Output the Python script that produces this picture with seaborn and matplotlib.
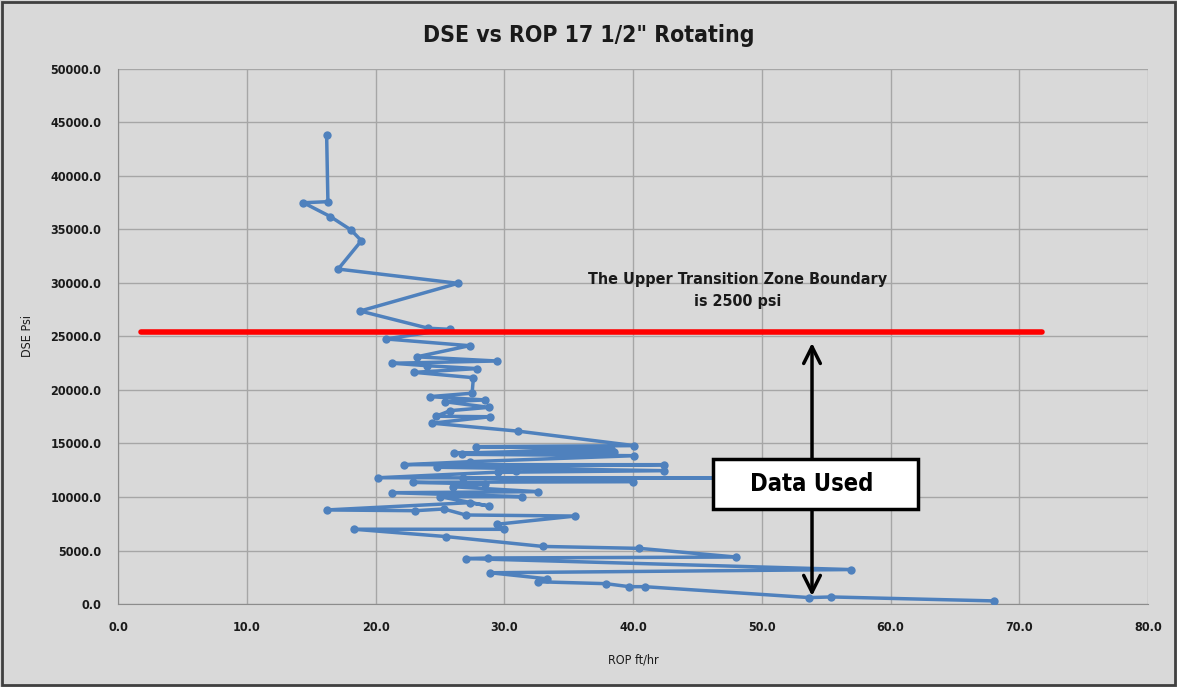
import matplotlib
matplotlib.use("Agg")
import matplotlib.pyplot as plt
import matplotlib.ticker as mticker
from matplotlib.patches import Rectangle
import pandas as pd
import seaborn as sns

# ROP (ft/hr) and DSE (psi), in drilling order (top to bottom)
rop = [16.2, 16.3, 14.4, 16.5, 18.1, 18.9, 17.1, 26.4, 18.8, 24.1, 25.8, 20.8, 27.3,
       23.2, 29.4, 21.3, 24.0, 27.9, 23.0, 27.6, 27.5, 24.2, 28.5, 25.4, 28.8, 25.8,
       24.7, 28.9, 24.4, 31.1, 40.1, 27.8, 38.3, 26.1, 38.5, 26.7, 40.1, 27.3, 22.2,
       42.4, 24.8, 42.4, 29.5, 30.9, 20.2, 48.1, 26.8, 40.0, 22.9, 28.5, 26.0, 32.6,
       21.3, 31.4, 25.0, 28.8, 27.3, 16.2, 23.1, 25.3, 27.0, 35.5, 29.4, 30.0, 18.3,
       25.5, 33.0, 40.5, 48.0, 28.7, 27.0, 56.9, 28.9, 33.3, 32.6, 37.9, 39.7, 40.9,
       53.7, 55.4, 68.0]
dse = [43860, 37600, 37500, 36200, 34950, 33950, 31300, 29970, 27380, 25770, 25670, 24770, 24140,
       23100, 22710, 22500, 22270, 22000, 21650, 21150, 19700, 19380, 19070, 18900, 18380, 18070,
       17550, 17500, 16900, 16150, 14800, 14700, 14490, 14080, 14230, 13990, 13860, 13300, 13020,
       13020, 12780, 12460, 12310, 12400, 11800, 11750, 11800, 11430, 11370, 11210, 10960, 10500,
       10400, 10030, 10030, 9160, 9470, 8790, 8720, 8880, 8320, 8220, 7450, 6980, 6990,
       6300, 5380, 5200, 4390, 4300, 4250, 3220, 2920, 2360, 2080, 1900, 1620, 1620,
       600, 660, 290]

boundary_dse = 25400
boundary_x = [1.8, 71.8]
arrow_x = 53.9
arrow_y = [24400, 750]

df = pd.DataFrame({"ROP ft/hr": rop, "DSE Psi": dse})

sns.set_style("whitegrid")
plt.rcParams["font.family"] = ["DejaVu Sans"]
plt.rcParams["font.stretch"] = "condensed"
plt.rcParams["text.color"] = "#1a1a1a"
plt.rcParams["axes.labelcolor"] = "#1a1a1a"
plt.rcParams["xtick.color"] = "#1a1a1a"
plt.rcParams["ytick.color"] = "#1a1a1a"

bg = "#d9d9d9"
fig = plt.figure(figsize=(11.77, 6.87), dpi=100, facecolor=bg)
ax = fig.add_axes([0.1003, 0.1208, 0.8751, 0.7788])
ax.set_facecolor(bg)

sns.lineplot(data=df, x="ROP ft/hr", y="DSE Psi", sort=False, estimator=None,
             color="#4f81bd", linewidth=2.5, marker="o", markersize=6,
             markeredgewidth=0, ax=ax, zorder=3)

ax.set_xlim(0, 80)
ax.set_ylim(0, 50000)
ax.xaxis.set_major_locator(mticker.MultipleLocator(10))
ax.yaxis.set_major_locator(mticker.MultipleLocator(5000))
ax.xaxis.set_major_formatter(mticker.FormatStrFormatter("%.1f"))
ax.yaxis.set_major_formatter(mticker.FormatStrFormatter("%.1f"))
ax.grid(True, color="#a6a6a6", linewidth=1)
for side in ["top", "right"]:
    ax.spines[side].set_visible(False)
for side in ["left", "bottom"]:
    ax.spines[side].set_color("#8c8c8c")
ax.tick_params(axis="both", length=4, color="#8c8c8c", labelsize=9, pad=8)
for lbl in ax.get_xticklabels() + ax.get_yticklabels():
    lbl.set_fontweight("bold")
ax.set_xlabel("ROP ft/hr", fontsize=9, labelpad=14)
ax.set_ylabel("DSE Psi", fontsize=9, labelpad=12)

fig.suptitle('DSE vs ROP 17 1/2" Rotating', fontsize=16.5, fontweight="bold", y=0.965)

# transition boundary
ax.plot(boundary_x, [boundary_dse, boundary_dse], color="#ff0000", linewidth=4, zorder=4)
ax.text(48.1, 29300, "The Upper Transition Zone Boundary\nis 2500 psi", ha="center",
        va="center", fontsize=11.5, fontweight="bold", linespacing=1.6, zorder=5)

# double arrow with label box
ax.annotate("", xy=(arrow_x, arrow_y[1]), xytext=(arrow_x, arrow_y[0]),
            arrowprops=dict(arrowstyle="<->", color="black", lw=2.5,
                            mutation_scale=30, shrinkA=0, shrinkB=0), zorder=5)
ax.add_patch(Rectangle((46.2, 8880), 15.9, 4670, facecolor="white", edgecolor="black",
                       linewidth=2.5, zorder=6))
ax.text(arrow_x, 11200, "Data Used", ha="center", va="center", fontsize=17,
        fontweight="bold", color="black", zorder=7)

# figure frame
fig.patches.append(Rectangle((0.002, 0.003), 0.996, 0.994, transform=fig.transFigure,
                             fill=False, edgecolor="#404040", linewidth=2))

fig.savefig("out.png", dpi=100, facecolor=bg)
